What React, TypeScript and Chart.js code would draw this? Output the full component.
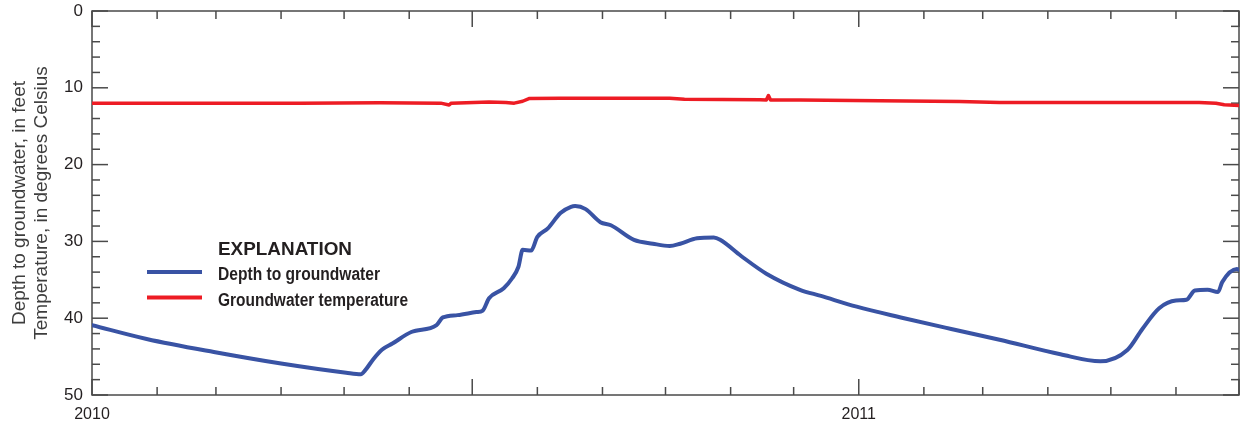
import React, { useEffect, useRef } from "react";
import { Chart, registerables } from "chart.js";

Chart.register(...registerables);

// ---- Data ----
const depthDates = [
  "2010-01-01", "2010-01-27", "2010-02-28", "2010-04-01", "2010-05-02", "2010-05-09",
  "2010-05-11", "2010-05-15", "2010-05-19", "2010-05-24", "2010-06-02", "2010-06-14",
  "2010-06-17", "2010-06-24", "2010-07-03", "2010-07-06", "2010-07-09", "2010-07-16",
  "2010-07-20", "2010-07-23", "2010-07-25", "2010-07-29", "2010-08-01", "2010-08-06",
  "2010-08-12", "2010-08-17", "2010-08-19", "2010-08-24", "2010-08-31", "2010-09-05",
  "2010-09-16", "2010-09-25", "2010-10-03", "2010-10-08", "2010-10-16", "2010-10-24",
  "2010-10-27", "2010-11-06", "2010-11-18", "2010-12-04", "2010-12-14", "2010-12-31",
  "2011-01-21", "2011-02-14", "2011-03-09", "2011-04-07", "2011-04-26", "2011-05-09",
  "2011-05-16", "2011-05-24", "2011-06-01", "2011-06-06", "2011-06-10", "2011-06-16",
  "2011-06-21", "2011-06-23", "2011-06-30", "2011-07-01",
];
const depthValues = [
  40.9, 42.7, 44.4, 45.9, 47.1, 47.3,
  46.8, 45.3, 44.1, 43.3, 41.8, 40.9,
  39.9, 39.6, 39.2, 39.0, 37.4, 36.1,
  34.8, 33.3, 31.1, 31.2, 29.4, 28.3,
  26.3, 25.5, 25.4, 25.8, 27.5, 27.9,
  29.8, 30.3, 30.6, 30.3, 29.6, 29.5,
  29.8, 31.9, 34.2, 36.3, 37.1, 38.5,
  39.9, 41.4, 42.8, 44.7, 45.6, 44.1,
  41.4, 38.7, 37.7, 37.6, 36.4, 36.3,
  36.6, 35.3, 33.6, 33.7,
];

const tempDates = [
  "2010-01-01", "2010-02-21", "2010-04-10", "2010-05-18", "2010-06-16", "2010-06-20",
  "2010-06-21", "2010-07-09", "2010-07-17", "2010-07-21", "2010-07-25", "2010-07-28",
  "2010-08-12", "2010-10-03", "2010-10-10", "2010-11-15", "2010-11-18", "2010-11-19",
  "2010-11-20", "2010-12-04", "2011-01-11", "2011-02-18", "2011-03-09", "2011-06-12",
  "2011-06-20", "2011-06-24", "2011-07-01",
];
const tempValues = [
  12.0, 12.0, 12.0, 11.95, 12.0, 12.25,
  12.0, 11.85, 11.9, 12.0, 11.75, 11.4,
  11.35, 11.35, 11.5, 11.55, 11.6, 11.0,
  11.6, 11.6, 11.7, 11.8, 11.9, 11.9,
  12.0, 12.2, 12.3,
];

const yTickValues = [0, 10, 20, 30, 40, 50];
const xTickDates = ["2010-01-01", "2011-01-01"];
const xTickLabels = ["2010", "2011"];
const axisStart = "2010-01-01";
const axisEnd = "2011-07-01";

const seriesLabels = ["Depth to groundwater", "Groundwater temperature"];
const legendTitle = "EXPLANATION";
const yTitle = ["Depth to groundwater, in feet", "Temperature, in degrees Celsius"];

// ---- helpers ----
const toUTC = (s: string) => {
  const [y, m, d] = s.split("-").map(Number);
  return Date.UTC(y, m - 1, d);
};
const dayOf = (s: string) => (toUTC(s) - toUTC(axisStart)) / 86400000;

const monthTicks = (() => {
  const out: { day: number; month: number }[] = [];
  const [sy, sm] = axisStart.split("-").map(Number);
  let y = sy;
  let m = sm - 1;
  const end = dayOf(axisEnd);
  for (;;) {
    const d = (Date.UTC(y, m, 1) - toUTC(axisStart)) / 86400000;
    if (d > end) break;
    out.push({ day: d, month: m });
    m++;
    if (m > 11) {
      m = 0;
      y++;
    }
  }
  return out;
})();

const BLUE = "#3953a4";
const RED = "#ed1c24";
const AXIS = "#4a4a4a";
const TEXT = "#231f20";
const FONT = '"Liberation Sans", Arial, sans-serif';

const framePlugin = {
  id: "frameTicks",
  beforeDatasetsDraw(chart: any) {
    const { ctx, chartArea, scales } = chart;
    const { left, right, top, bottom } = chartArea;
    const x = scales.x;
    const y = scales.y;
    ctx.save();
    ctx.strokeStyle = AXIS;
    ctx.lineWidth = 1.5;
    ctx.strokeRect(left, top, right - left, bottom - top);
    const seg = (x1: number, y1: number, x2: number, y2: number) => {
      ctx.beginPath();
      ctx.moveTo(x1, y1);
      ctx.lineTo(x2, y2);
      ctx.stroke();
    };
    for (let v = 0; v <= 50; v += 2) {
      const py = y.getPixelForValue(v);
      const len = v % 10 === 0 ? 16 : 8;
      seg(left, py, left + len, py);
      seg(right, py, right - len, py);
    }
    monthTicks.forEach((t) => {
      const px = x.getPixelForValue(t.day);
      const len = t.month % 6 === 0 ? 16 : 8;
      seg(px, top, px, top + len);
      seg(px, bottom, px, bottom - len);
    });
    ctx.restore();
  },
};

const condensedText = (ctx: any, text: string, x: number, y: number, width: number) => {
  const natural = ctx.measureText(text).width;
  ctx.save();
  ctx.translate(x, y);
  ctx.scale(width / natural, 1);
  ctx.fillText(text, 0, 0);
  ctx.restore();
};

const legendPlugin = {
  id: "explanation",
  afterDraw(chart: any) {
    const { ctx } = chart;
    ctx.save();
    ctx.fillStyle = TEXT;
    ctx.textBaseline = "alphabetic";
    ctx.textAlign = "left";
    ctx.font = `bold 19px ${FONT}`;
    condensedText(ctx, legendTitle, 218, 255, 134);
    const rows = [
      { color: BLUE, y: 272, label: seriesLabels[0], base: 280, w: 162 },
      { color: RED, y: 297.5, label: seriesLabels[1], base: 306, w: 190 },
    ];
    rows.forEach((r) => {
      ctx.strokeStyle = r.color;
      ctx.lineWidth = 4;
      ctx.beginPath();
      ctx.moveTo(147, r.y);
      ctx.lineTo(202, r.y);
      ctx.stroke();
      ctx.font = `bold 18px ${FONT}`;
      condensedText(ctx, r.label, 218, r.base, r.w);
    });
    ctx.restore();
  },
};

export default function App() {
  const canvasRef = useRef<HTMLCanvasElement | null>(null);

  useEffect(() => {
    if (!canvasRef.current) return;
    const chart = new Chart(canvasRef.current, {
      type: "line",
      data: {
        datasets: [
          {
            label: seriesLabels[0],
            data: depthDates.map((d, i) => ({ x: dayOf(d), y: depthValues[i] })),
            borderColor: BLUE,
            backgroundColor: BLUE,
            borderWidth: 4,
            pointRadius: 0,
            cubicInterpolationMode: "monotone",
            borderJoinStyle: "round",
            borderCapStyle: "round",
          },
          {
            label: seriesLabels[1],
            data: tempDates.map((d, i) => ({ x: dayOf(d), y: tempValues[i] })),
            borderColor: RED,
            backgroundColor: RED,
            borderWidth: 3.5,
            pointRadius: 0,
            tension: 0,
            borderJoinStyle: "round",
            borderCapStyle: "round",
          },
        ],
      },
      options: {
        responsive: false,
        animation: false,
        layout: { padding: { top: 11, right: 2, left: 0, bottom: 0 } },
        plugins: {
          legend: { display: false },
          tooltip: { enabled: false },
        },
        scales: {
          x: {
            type: "linear",
            min: 0,
            max: dayOf(axisEnd),
            grid: { display: false, drawTicks: false },
            border: { display: false },
            afterBuildTicks: (scale: any) => {
              scale.ticks = xTickDates.map((d) => ({ value: dayOf(d) }));
            },
            afterFit: (scale: any) => {
              scale.height = 28;
              scale.paddingLeft = 0;
              scale.paddingRight = 0;
            },
            ticks: {
              autoSkip: false,
              maxRotation: 0,
              padding: 10,
              color: TEXT,
              font: { family: FONT, size: 16 },
              callback: (v: any) => {
                const idx = xTickDates.findIndex((d) => dayOf(d) === v);
                return idx >= 0 ? xTickLabels[idx] : "";
              },
            },
          },
          y: {
            type: "linear",
            reverse: true,
            min: 0,
            max: 50,
            grid: { display: false, drawTicks: false },
            border: { display: false },
            afterBuildTicks: (scale: any) => {
              scale.ticks = yTickValues.map((v) => ({ value: v }));
            },
            afterFit: (scale: any) => {
              scale.width = 92;
              scale.paddingTop = 0;
              scale.paddingBottom = 0;
            },
            ticks: {
              padding: 9,
              color: TEXT,
              font: { family: FONT, size: 17 },
            },
            title: {
              display: true,
              text: yTitle,
              color: "#3d3d3d",
              padding: { top: 8, bottom: 0 },
              font: { family: FONT, size: 19, lineHeight: 1.2 },
            },
          },
        },
      },
      plugins: [framePlugin, legendPlugin],
    } as any);
    return () => chart.destroy();
  }, []);

  return (
    <div style={{ position: "absolute", left: 0, top: 0, width: 1241, height: 423, background: "#fff" }}>
      <canvas ref={canvasRef} width={1241} height={423} style={{ width: 1241, height: 423, display: "block" }} />
    </div>
  );
}
